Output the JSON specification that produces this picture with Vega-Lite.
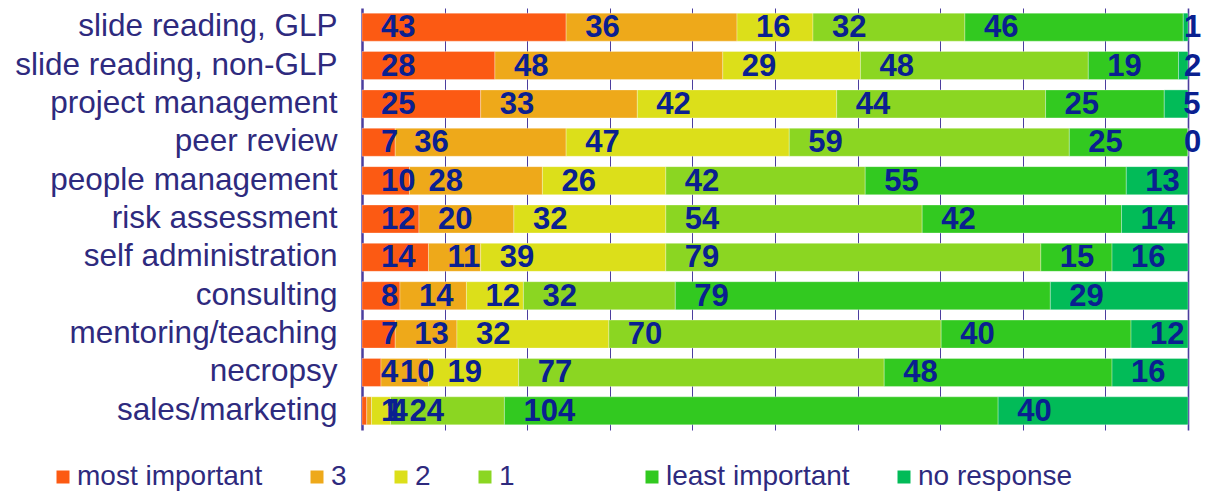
{
  "$schema": "https://vega.github.io/schema/vega-lite/v6.json",
  "width": 826,
  "height": 422,
  "autosize": {"type": "none"},
  "padding": {"left": 362, "top": 8, "right": 17, "bottom": 65},
  "background": "white",
  "config": {"view": {"stroke": null}},
  "data": {
    "values": [
      {"task": "slide reading, GLP", "level": "most important", "rank": 0, "n": 43},
      {"task": "slide reading, GLP", "level": "3", "rank": 1, "n": 36},
      {"task": "slide reading, GLP", "level": "2", "rank": 2, "n": 16},
      {"task": "slide reading, GLP", "level": "1", "rank": 3, "n": 32},
      {"task": "slide reading, GLP", "level": "least important", "rank": 4, "n": 46},
      {"task": "slide reading, GLP", "level": "no response", "rank": 5, "n": 1},
      {"task": "slide reading, non-GLP", "level": "most important", "rank": 0, "n": 28},
      {"task": "slide reading, non-GLP", "level": "3", "rank": 1, "n": 48},
      {"task": "slide reading, non-GLP", "level": "2", "rank": 2, "n": 29},
      {"task": "slide reading, non-GLP", "level": "1", "rank": 3, "n": 48},
      {"task": "slide reading, non-GLP", "level": "least important", "rank": 4, "n": 19},
      {"task": "slide reading, non-GLP", "level": "no response", "rank": 5, "n": 2},
      {"task": "project management", "level": "most important", "rank": 0, "n": 25},
      {"task": "project management", "level": "3", "rank": 1, "n": 33},
      {"task": "project management", "level": "2", "rank": 2, "n": 42},
      {"task": "project management", "level": "1", "rank": 3, "n": 44},
      {"task": "project management", "level": "least important", "rank": 4, "n": 25},
      {"task": "project management", "level": "no response", "rank": 5, "n": 5},
      {"task": "peer review", "level": "most important", "rank": 0, "n": 7},
      {"task": "peer review", "level": "3", "rank": 1, "n": 36},
      {"task": "peer review", "level": "2", "rank": 2, "n": 47},
      {"task": "peer review", "level": "1", "rank": 3, "n": 59},
      {"task": "peer review", "level": "least important", "rank": 4, "n": 25},
      {"task": "peer review", "level": "no response", "rank": 5, "n": 0},
      {"task": "people management", "level": "most important", "rank": 0, "n": 10},
      {"task": "people management", "level": "3", "rank": 1, "n": 28},
      {"task": "people management", "level": "2", "rank": 2, "n": 26},
      {"task": "people management", "level": "1", "rank": 3, "n": 42},
      {"task": "people management", "level": "least important", "rank": 4, "n": 55},
      {"task": "people management", "level": "no response", "rank": 5, "n": 13},
      {"task": "risk assessment", "level": "most important", "rank": 0, "n": 12},
      {"task": "risk assessment", "level": "3", "rank": 1, "n": 20},
      {"task": "risk assessment", "level": "2", "rank": 2, "n": 32},
      {"task": "risk assessment", "level": "1", "rank": 3, "n": 54},
      {"task": "risk assessment", "level": "least important", "rank": 4, "n": 42},
      {"task": "risk assessment", "level": "no response", "rank": 5, "n": 14},
      {"task": "self administration", "level": "most important", "rank": 0, "n": 14},
      {"task": "self administration", "level": "3", "rank": 1, "n": 11},
      {"task": "self administration", "level": "2", "rank": 2, "n": 39},
      {"task": "self administration", "level": "1", "rank": 3, "n": 79},
      {"task": "self administration", "level": "least important", "rank": 4, "n": 15},
      {"task": "self administration", "level": "no response", "rank": 5, "n": 16},
      {"task": "consulting", "level": "most important", "rank": 0, "n": 8},
      {"task": "consulting", "level": "3", "rank": 1, "n": 14},
      {"task": "consulting", "level": "2", "rank": 2, "n": 12},
      {"task": "consulting", "level": "1", "rank": 3, "n": 32},
      {"task": "consulting", "level": "least important", "rank": 4, "n": 79},
      {"task": "consulting", "level": "no response", "rank": 5, "n": 29},
      {"task": "mentoring/teaching", "level": "most important", "rank": 0, "n": 7},
      {"task": "mentoring/teaching", "level": "3", "rank": 1, "n": 13},
      {"task": "mentoring/teaching", "level": "2", "rank": 2, "n": 32},
      {"task": "mentoring/teaching", "level": "1", "rank": 3, "n": 70},
      {"task": "mentoring/teaching", "level": "least important", "rank": 4, "n": 40},
      {"task": "mentoring/teaching", "level": "no response", "rank": 5, "n": 12},
      {"task": "necropsy", "level": "most important", "rank": 0, "n": 4},
      {"task": "necropsy", "level": "3", "rank": 1, "n": 10},
      {"task": "necropsy", "level": "2", "rank": 2, "n": 19},
      {"task": "necropsy", "level": "1", "rank": 3, "n": 77},
      {"task": "necropsy", "level": "least important", "rank": 4, "n": 48},
      {"task": "necropsy", "level": "no response", "rank": 5, "n": 16},
      {"task": "sales/marketing", "level": "most important", "rank": 0, "n": 1},
      {"task": "sales/marketing", "level": "3", "rank": 1, "n": 1},
      {"task": "sales/marketing", "level": "2", "rank": 2, "n": 4},
      {"task": "sales/marketing", "level": "1", "rank": 3, "n": 24},
      {"task": "sales/marketing", "level": "least important", "rank": 4, "n": 104},
      {"task": "sales/marketing", "level": "no response", "rank": 5, "n": 40}
    ]
  },
  "transform": [
    {"stack": "n", "groupby": ["task"], "sort": [{"field": "rank", "order": "ascending"}], "as": ["x0", "x1"]}
  ],
  "encoding": {
    "y": {
      "field": "task", "type": "nominal",
      "sort": ["slide reading, GLP", "slide reading, non-GLP", "project management", "peer review", "people management", "risk assessment", "self administration", "consulting", "mentoring/teaching", "necropsy", "sales/marketing"],
      "scale": {"paddingInner": 0.27, "paddingOuter": 0.135},
      "axis": {
        "title": null, "ticks": false, "labelPadding": 25, "labelFont": "Liberation Sans",
        "labelFontSize": 31.5, "labelColor": "#2e2a7e", "domainColor": "#4b3d9e", "domainWidth": 2.5,
        "labelLimit": 400, "grid": false
      }
    }
  },
  "layer": [
    {
      "encoding": {
        "x": {
          "field": "x0", "type": "quantitative",
          "scale": {"domain": [0, 174], "nice": false, "zero": true},
          "axis": {
            "title": null, "labels": false, "ticks": false, "domain": false, "grid": true,
            "values": [17.4, 34.8, 52.2, 69.6, 87, 104.4, 121.8, 139.2, 156.6, 174],
            "gridColor": "#4b3d9e",
            "gridWidth": {"condition": {"test": "datum.value >= 173", "value": 1.6}, "value": 1}
          }
        },
        "x2": {"field": "x1"}
      },
      "layer": [
        {
          "transform": [{"filter": "datum.rank <= 3"}],
          "mark": {"type": "bar", "stroke": "#ffffff", "strokeWidth": 0.6, "strokeOpacity": 0.5},
          "encoding": {
            "color": {
              "field": "level", "type": "nominal",
              "scale": {
                "domain": ["most important", "3", "2", "1"],
                "range": ["#fc5a13", "#eea91a", "#dcdf1a", "#8bd622"]
              },
              "legend": {
                "orient": "none", "legendX": -313, "legendY": 455, "direction": "horizontal",
                "title": null, "symbolType": "square", "symbolSize": 169, "symbolStrokeWidth": 0,
                "labelFont": "Liberation Sans", "labelFontSize": 28, "labelColor": "#2e2a7e",
                "labelOffset": 0, "columnPadding": 40, "padding": 0, "labelLimit": 400
              }
            }
          }
        },
        {
          "transform": [{"filter": "datum.rank >= 4"}],
          "mark": {"type": "bar", "stroke": "#ffffff", "strokeWidth": 0.6, "strokeOpacity": 0.5},
          "encoding": {
            "fill": {
              "field": "level", "type": "nominal",
              "scale": {
                "domain": ["least important", "no response"],
                "range": ["#32c920", "#02bb58"]
              },
              "legend": {
                "orient": "none", "legendX": 276, "legendY": 455, "direction": "horizontal",
                "title": null, "symbolType": "square", "symbolSize": 169, "symbolStrokeWidth": 0,
                "labelFont": "Liberation Sans", "labelFontSize": 28, "labelColor": "#2e2a7e",
                "labelOffset": 0, "columnPadding": 40, "padding": 0, "labelLimit": 400
              }
            }
          }
        }
      ]
    },
    {
      "mark": {"type": "text", "align": "left", "baseline": "middle", "dx": -4, "dy": 1, "font": "Liberation Sans", "fontSize": 31, "fontWeight": "bold", "color": "#0a2090"},
      "encoding": {
        "x": {
          "field": "x0", "type": "quantitative",
          "scale": {"domain": [-4.85, 169.15], "nice": false, "zero": false, "clamp": true},
          "axis": null
        },
        "text": {"field": "n", "type": "quantitative"}
      }
    }
  ],
  "resolve": {"scale": {"x": "independent"}}
}
